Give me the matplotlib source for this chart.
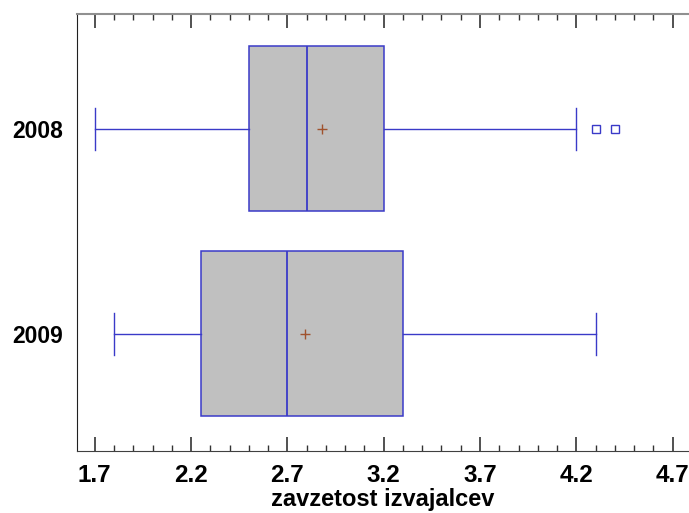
import matplotlib
matplotlib.use('Agg')
import matplotlib.pyplot as plt
from matplotlib.ticker import MultipleLocator

# Podatki (odčitano s slike)
years = ['2008', '2009']
whisker_lo = [1.70, 1.80]
q1 = [2.50, 2.25]
median = [2.80, 2.70]
mean = [2.88, 2.79]
q3 = [3.20, 3.30]
whisker_hi = [4.20, 4.30]
outliers = [[4.30, 4.40], []]
ypos = [1, 0]
xticks = [1.7, 2.2, 2.7, 3.2, 3.7, 4.2, 4.7]

plt.rcParams['font.family'] = ['Liberation Sans', 'DejaVu Sans']

fig = plt.figure(figsize=(6.89, 5.13), dpi=100)
ax = fig.add_axes([77 / 689, 62 / 513, 612 / 689, 437 / 513])

stats = []
for i in range(len(years)):
    stats.append({
        'label': years[i],
        'whislo': whisker_lo[i], 'q1': q1[i], 'med': median[i],
        'q3': q3[i], 'whishi': whisker_hi[i], 'mean': mean[i],
        'fliers': outliers[i],
    })

blue = '#3a3ac8'
ax.bxp(stats, positions=ypos, vert=False, widths=0.805, patch_artist=True,
       showmeans=True, showfliers=True, capwidths=0.205,
       boxprops=dict(facecolor='#c0c0c0', edgecolor=blue, linewidth=1.1),
       medianprops=dict(color=blue, linewidth=1.3),
       whiskerprops=dict(color=blue, linewidth=1.0),
       capprops=dict(color=blue, linewidth=1.0),
       meanprops=dict(marker='+', markeredgecolor='#a0522d', markersize=7, markeredgewidth=1.0),
       flierprops=dict(marker='s', markerfacecolor='none', markeredgecolor=blue,
                       markersize=6, markeredgewidth=1.0))

ax.set_xlim(1.608, 4.785)
ax.set_ylim(-0.571, 1.561)
ax.xaxis.set_minor_locator(MultipleLocator(0.1))
ax.set_xticks(xticks)
ax.set_xticklabels([f'{v:.1f}' for v in xticks], fontsize=17.5, fontweight='bold')
ax.set_yticks(ypos)
ax.set_yticklabels(years, fontsize=16.5, fontweight='bold')
ax.tick_params(axis='x', which='major', direction='in', length=10, width=1.2,
               top=True, bottom=True, color='#333333', pad=9)
ax.tick_params(axis='x', which='minor', direction='in', length=4, width=1,
               top=True, bottom=True, color='#333333')
ax.tick_params(axis='y', length=0, pad=10)

ax.spines['right'].set_visible(False)
ax.spines['top'].set_color('#909090')
ax.spines['top'].set_linewidth(1.5)
ax.spines['bottom'].set_color('#404040')
ax.spines['left'].set_color('#202020')

ax.set_xlabel('zavzetost izvajalcev', fontsize=17, fontweight='bold', labelpad=1)

fig.savefig('out.png', dpi=100)
